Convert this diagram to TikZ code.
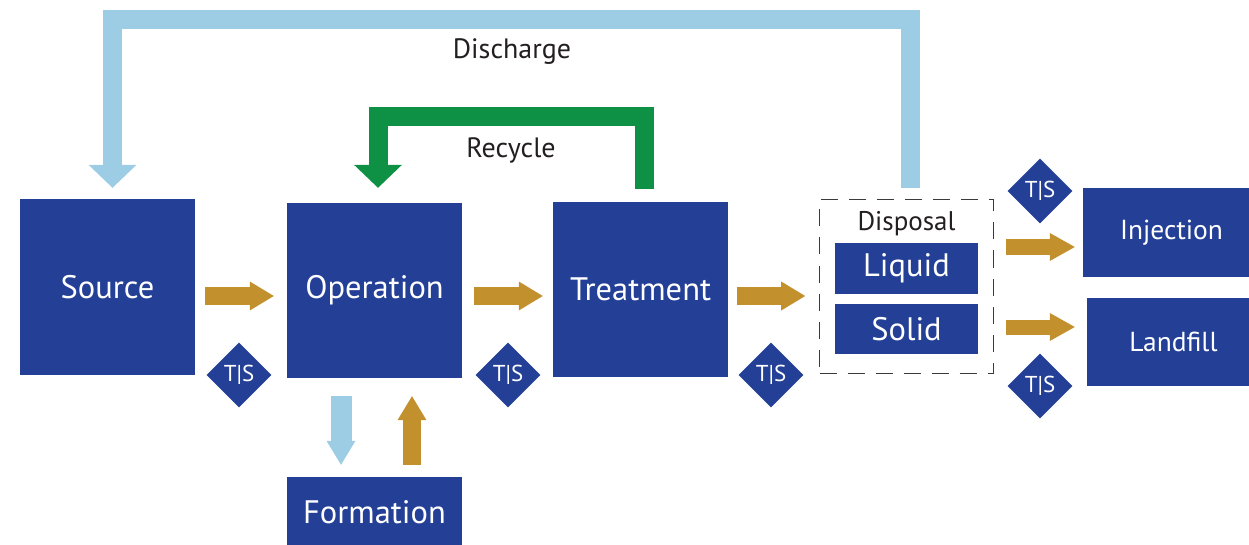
\documentclass[tikz,border=0pt]{standalone}
\usepackage{fontspec}
\setmainfont{PT Sans}
\usetikzlibrary{arrows.meta,shapes.geometric,calc}
\definecolor{dblue}{HTML}{233F96}
\definecolor{lblue}{HTML}{9DCDE4}
\definecolor{dgreen}{HTML}{0E9144}
\definecolor{gold}{HTML}{C2912E}
\definecolor{txt}{HTML}{231F20}
\definecolor{dashgray}{HTML}{3A3A3A}
\begin{document}
\begin{tikzpicture}[x=1pt,y=-1pt,
  box/.style={fill=dblue, text=white, inner sep=0pt, font=\fontsize{32.5}{32.5}\selectfont},
  boxsm/.style={box, font=\fontsize{27.5}{27.5}\selectfont},
  ts/.style={diamond, aspect=1, fill=dblue, minimum width=65pt, minimum height=65pt, inner sep=0pt, text=white, font=\fontsize{23}{23}\selectfont},
  lab/.style={text=txt, inner sep=0pt, font=\fontsize{28}{28}\selectfont},
  goldarrow/.style={draw=gold, line width=18pt, -{Triangle[length=24pt,width=29pt,line width=0pt]}},
  goldarrowsm/.style={draw=gold, line width=15pt, -{Triangle[length=25pt,width=28pt,line width=0pt]}},
  bluearrow/.style={draw=lblue, line width=21pt, -{Triangle[length=24pt,width=29pt,line width=0pt]}},
  bigloop/.style={line width=19pt, line join=miter, -{Triangle[length=23pt,width=48pt,line width=0pt]}}
]
\useasboundingbox (0,0) rectangle (1249,545);

% main boxes
\node[box, minimum width=175pt, minimum height=176pt] (src) at (107.5,287) {Source};
\node[box, minimum width=175pt, minimum height=175pt] (op) at (374.5,290.5) {Operation};
\node[box, minimum width=175pt, minimum height=175pt] (tr) at (640.5,289.5) {Treatment};
\node[box, minimum width=175pt, minimum height=71pt] (form) at (374.5,512.5) {Formation};

% disposal group
\node[draw=dashgray, dash pattern=on 17pt off 11pt, line width=1.6pt, minimum width=174pt, minimum height=174pt, inner sep=0pt] (disp) at (906.5,286.5) {};
\node[lab, font=\fontsize{27}{27}\selectfont] (displab) at (906.5,224) {Disposal};
\node[box, minimum width=143pt, minimum height=51pt] (liq) at (906.5,268.5) {Liquid};
\node[box, minimum width=143pt, minimum height=50pt] (sol) at (906.5,329) {Solid};

\node[boxsm, minimum width=177pt, minimum height=89pt] (inj) at (1171.5,232.5) {Injection};
\node[boxsm, minimum width=173pt, minimum height=88pt] (land) at (1173.5,342) {Landfill};

% T|S diamonds
\node[ts] (ts1) at (239,375) {T|S};
\node[ts] (ts2) at (508,375) {T|S};
\node[ts] (ts3) at (771,375) {T|S};
\node[ts] (ts4) at (1040,191) {T|S};
\node[ts] (ts5) at (1040,386) {T|S};

% gold flow arrows
\draw[goldarrow] ($(src.east)+(10,9)$) -- ($(op.west)+(-13,5.5)$);
\draw[goldarrow] ($(op.east)+(12,5.5)$) -- ($(tr.west)+(-10,6.5)$);
\draw[goldarrow] ($(tr.east)+(9,6.5)$) -- ($(disp.west)+(-13.5,9.5)$);
\draw[goldarrowsm] ($(liq.east)+(28,-21.5)$) -- ($(inj.west)+(-8,14.5)$);
\draw[goldarrowsm] ($(sol.east)+(28,-2)$) -- ($(land.west)+(-12,-15)$);

% formation arrows
\draw[bluearrow] ($(op.south)+(-33.5,18)$) -- ($(form.north)+(-33.5,-12)$);
\draw[goldarrow] ($(form.north)+(37.5,-12)$) -- ($(op.south)+(37.5,18)$);

% discharge loop
\coordinate (dc) at (112.5,19.5);
\draw[bigloop, draw=lblue] ($(disp.north)+(4,-11)$) |- (dc) -- ($(src.north)+(5,-11)$);
\node[lab] (dlab) at (512,52) {Discharge};

% recycle loop
\coordinate (rc) at (378,116.5);
\draw[bigloop, draw=dgreen] ($(tr.north)+(4,-13)$) |- (rc) -- ($(op.north)+(3.5,-15)$);
\node[lab] (rlab) at (511,150) {Recycle};
\end{tikzpicture}
\end{document}
